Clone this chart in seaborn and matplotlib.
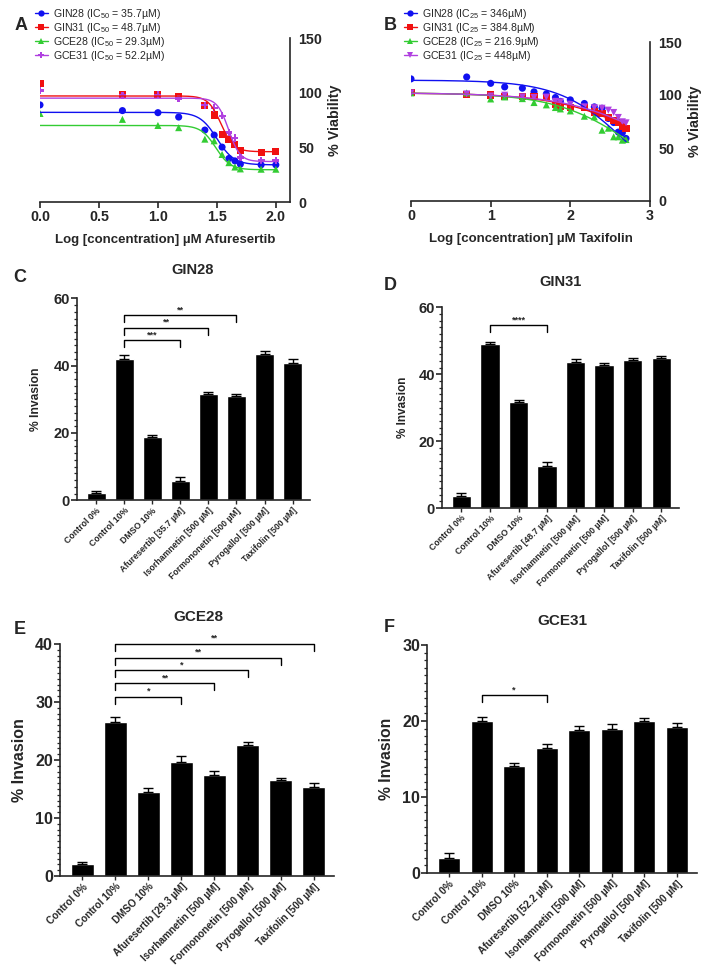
import numpy as np
import pandas as pd
import matplotlib
matplotlib.use('Agg')
import matplotlib.pyplot as plt
import seaborn as sns
from matplotlib.ticker import MultipleLocator
from matplotlib.lines import Line2D

W, H = 709, 973

# ---- dose response data (A: Afuresertib, B: Taxifolin) ----
cell_lines = ['GIN28', 'GIN31', 'GCE28', 'GCE31']
ic50_afu = ['35.7', '48.7', '29.3', '52.2']
ic25_tax = ['346', '384.8', '216.9', '448']

log_afu = [0.0, 0.699, 1.0, 1.176, 1.398, 1.477, 1.544, 1.602, 1.653, 1.699, 1.875, 2.0]
afu_gin28 = [88.8, 83.6, 81.7, 77.7, 65.8, 61.2, 50.2, 39.8, 37.6, 34.6, 34.0, 34.0]
afu_gin31 = [108.0, 98.0, 98.0, 96.4, 88.0, 79.6, 62.0, 57.0, 53.0, 47.4, 45.0, 46.0]
afu_gce28 = [81.0, 75.6, 70.0, 68.0, 57.5, 56.0, 43.5, 36.0, 32.0, 30.3, 30.0, 30.0]
afu_gce31 = [102.0, 97.6, 98.0, 94.6, 88.5, 86.0, 78.7, 63.7, 58.5, 40.7, 38.3, 38.0]
# fitted curve parameters: top, bottom, log midpoint, hill
afu_top = [82, 97, 70, 95]
afu_bottom = [34, 46, 29.5, 37]
afu_mid = [1.50, 1.535, 1.49, 1.60]
afu_hill = [6.0, 8.0, 7.0, 9.0]

log_tax = [0.0, 0.699, 1.0, 1.176, 1.398, 1.544, 1.699, 1.813, 1.875, 2.0,
           2.176, 2.301, 2.398, 2.477, 2.544, 2.602, 2.653, 2.699]
tax_gin28 = [115.2, 117.0, 111.0, 107.6, 106.4, 103.0, 101.0, 97.6, 94.0, 95.4,
             92.0, 88.8, 87.5, 77.8, 74.0, 65.0, 64.4, 59.0]
tax_gin31 = [102.0, 100.4, 100.0, 99.0, 98.2, 98.2, 97.3, 91.3, 89.4, 88.2,
             87.9, 84.0, 82.5, 78.8, 75.6, 74.4, 70.6, 68.7]
tax_gce28 = [102.0, 102.0, 96.3, 98.2, 96.6, 92.9, 90.7, 88.2, 86.9, 85.0,
             80.0, 79.4, 66.8, 68.7, 60.6, 60.6, 57.4, 58.0]
tax_gce31 = [102.0, 101.0, 99.0, 99.8, 98.2, 97.6, 98.0, 94.0, 93.5, 91.3,
             88.8, 88.0, 87.5, 85.7, 83.5, 78.8, 74.7, 73.7]
tax_top = [114, 102, 102, 102]
tax_mid = [2.686, 3.14, 2.838, 3.24]
tax_hill = [1.06, 0.766, 0.871, 0.739]

# ---- invasion data ----
groups = ['Control 0%', 'Control 10%', 'DMSO 10%', 'Afuresertib [{} µM]',
          'Isorhamnetin [500 µM]', 'Formononetin [500 µM]', 'Pyrogallol [500 µM]',
          'Taxifolin [500 µM]']
gin28_mean = [2.1, 42.0, 18.8, 5.7, 31.6, 30.9, 43.4, 40.7]
gin28_err = [0.75, 1.2, 0.7, 1.1, 0.7, 0.8, 1.0, 1.2]
gin31_mean = [3.7, 49.0, 31.8, 12.6, 43.7, 42.8, 44.1, 44.7]
gin31_err = [0.7, 0.6, 0.6, 1.1, 0.7, 0.4, 0.8, 0.7]
gce28_mean = [2.0, 26.6, 14.5, 19.7, 17.5, 22.6, 16.55, 15.4]
gce28_err = [0.5, 0.9, 0.7, 1.0, 0.6, 0.5, 0.4, 0.7]
gce31_mean = [1.93, 20.0, 14.1, 16.4, 18.8, 19.0, 20.0, 19.2]
gce31_err = [0.7, 0.5, 0.4, 0.6, 0.6, 0.6, 0.4, 0.6]

sig_gin28 = [(1, 3, 47.5, '***'), (1, 4, 51.3, '**'), (1, 5, 55.0, '**')]
sig_gin31 = [(1, 3, 54.6, '****')]
sig_gce28 = [(1, 3, 30.9, '*'), (1, 4, 33.2, '**'), (1, 5, 35.5, '*'),
             (1, 6, 37.6, '**'), (1, 7, 40.0, '**')]
sig_gce31 = [(1, 3, 23.4, '*')]

colors = ['#1010f0', '#f01010', '#33cc33', '#b040e0']

sns.set_style('ticks')
plt.rcParams['font.family'] = ['Liberation Sans', 'DejaVu Sans']
plt.rcParams['mathtext.default'] = 'regular'
plt.rcParams['axes.linewidth'] = 1.2

fig = plt.figure(figsize=(W / 100, H / 100), dpi=100)


def place(left, top, right, bottom):
    return fig.add_axes([left / W, 1 - bottom / H, (right - left) / W, (bottom - top) / H])


def label(x, y, s, size):
    fig.text(x / W, 1 - y / H, s, fontsize=size, fontweight='bold', ha='center', va='center')


def dose_panel(ax, xs, series, markers, curves, xmax, xticks, xfmt, xlabel):
    for vals, m, c, (cx, cy) in zip(series, markers, colors, curves):
        sns.lineplot(x=cx, y=cy, color=c, lw=1, ax=ax, legend=False)
        sns.scatterplot(x=xs, y=vals, marker=m, color=c, s=26, edgecolor='none', ax=ax, legend=False)
    ax.set_xlim(0, xmax)
    ax.set_ylim(0, 150)
    ax.set_xticks(xticks)
    ax.set_xticklabels([xfmt.format(t) for t in xticks])
    ax.set_yticks([0, 50, 100, 150])
    ax.yaxis.set_minor_locator(MultipleLocator(12.5))
    ax.yaxis.tick_right()
    ax.yaxis.set_label_position('right')
    sns.despine(ax=ax, left=True, right=False, top=True)
    ax.tick_params(axis='both', which='major', labelsize=10.3, length=4, width=1.2, pad=2)
    ax.tick_params(axis='y', which='minor', length=2.5, width=1.0)
    for t in ax.get_xticklabels() + ax.get_yticklabels():
        t.set_fontweight('bold')
    ax.set_xlabel(xlabel, fontsize=9.5, fontweight='bold', labelpad=7)
    ax.set_ylabel('% Viability', fontsize=10.3, fontweight='bold', labelpad=4)


def legend(x, y, markers, labels):
    handles = [Line2D([], [], color=c, marker=m, lw=1, markersize=4.5, markeredgewidth=0)
               for c, m in zip(colors, markers)]
    fig.legend(handles, labels, loc='upper left', bbox_to_anchor=(x / W, 1 - y / H),
               frameon=False, fontsize=7.6, handlelength=1.2, handletextpad=0.5,
               labelspacing=0.0, borderaxespad=0, borderpad=0)


# ---- A ----
axA = place(40, 38, 290, 202)
xa = np.linspace(0, 2.0, 200)
curves_a = [(xa, b + (t - b) / (1 + 10 ** ((xa - m) * h)))
            for t, b, m, h in zip(afu_top, afu_bottom, afu_mid, afu_hill)]
mk_a = ['o', 's', '^', 'P']
dose_panel(axA, log_afu, [afu_gin28, afu_gin31, afu_gce28, afu_gce31], mk_a, curves_a,
           2.12, [0, 0.5, 1.0, 1.5, 2.0], '{:.1f}', 'Log [concentration] µM Afuresertib')
legend(35, 7, mk_a, ['{} (IC$_{{50}}$ = {}µM)'.format(n, v) for n, v in zip(cell_lines, ic50_afu)])
label(21, 26, 'A', 13)

# ---- B ----
axB = place(411, 42, 650, 201)
xb = np.linspace(0, 2.7, 200)
curves_b = [(xb, t / (1 + 10 ** ((xb - m) * h))) for t, m, h in zip(tax_top, tax_mid, tax_hill)]
mk_b = ['o', 's', '^', 'v']
dose_panel(axB, log_tax, [tax_gin28, tax_gin31, tax_gce28, tax_gce31], mk_b, curves_b,
           3, [0, 1, 2, 3], '{:d}', 'Log [concentration] µM Taxifolin')
legend(404, 7, mk_b, ['{} (IC$_{{25}}$ = {}µM)'.format(n, v) for n, v in zip(cell_lines, ic25_tax)])
label(390, 26, 'B', 13)


# ---- invasion panels ----
def bar_panel(ax, dose, means, errs, sigs, ymax, ystep, yminor, tsize, lsize, xsize, lpad):
    labels = [g.format(dose) for g in groups]
    df = pd.DataFrame({'group': labels, 'invasion': means})
    sns.barplot(data=df, x='group', y='invasion', color='black', saturation=1,
                width=0.68, errorbar=None, ax=ax)
    ax.errorbar(range(len(means)), means, yerr=[np.zeros(len(errs)), errs], fmt='none',
                ecolor='black', elinewidth=1, capsize=3.5, capthick=1)
    ax.set_xlim(-0.68, 7.62)
    ax.set_ylim(0, ymax)
    ax.set_yticks(np.arange(0, ymax + 0.1, ystep))
    ax.yaxis.set_minor_locator(MultipleLocator(yminor))
    sns.despine(ax=ax)
    ax.tick_params(axis='y', which='major', labelsize=tsize, length=4, width=1.2, pad=1)
    ax.tick_params(axis='y', which='minor', length=2.5, width=0.9)
    ax.tick_params(axis='x', which='major', labelsize=xsize, length=3, width=1.0, pad=1)
    ax.set_xticks(range(len(labels)))
    ax.set_xticklabels(labels, rotation=45, ha='right', rotation_mode='anchor')
    for t in ax.get_xticklabels() + ax.get_yticklabels():
        t.set_fontweight('bold')
    ax.set_xlabel('')
    ax.set_ylabel('% Invasion', fontsize=lsize, fontweight='bold', labelpad=lpad)
    drop = ymax * 7.0 / (ax.get_position().height * H)
    for a, b, y, s in sigs:
        ax.plot([a, a, b, b], [y - drop, y, y, y - drop], color='black', lw=1, clip_on=False)
        ax.text((a + b) / 2, y + drop * 0.15, s, ha='center', va='bottom', fontsize=6.5,
                fontweight='bold', clip_on=False)


axC = place(77, 298.3, 310, 500.3)
bar_panel(axC, '35.7', gin28_mean, gin28_err, sig_gin28, 60, 20, 2, 10.5, 8.7, 6.3, 8)
label(193, 270, 'GIN28', 10.5)
label(20, 277, 'C', 13)

axD = place(442, 307.3, 679, 508)
bar_panel(axD, '48.7', gin31_mean, gin31_err, sig_gin31, 60, 20, 2, 10.5, 8.5, 6.3, 7)
label(560, 282, 'GIN31', 10.5)
label(390, 286, 'D', 13)

axE = place(60, 644, 334, 876)
bar_panel(axE, '29.3', gce28_mean, gce28_err, sig_gce28, 40, 10, 1, 11.5, 11.5, 7.2, 6)
label(198, 617, 'GCE28', 11)
label(20, 629, 'E', 13)

axF = place(427, 645, 697, 873)
bar_panel(axF, '52.2', gce31_mean, gce31_err, sig_gce31, 30, 10, 1, 11.5, 11.3, 7.2, 6)
label(562, 621, 'GCE31', 11)
label(389, 628, 'F', 13)

fig.savefig('out.png', dpi=100)
